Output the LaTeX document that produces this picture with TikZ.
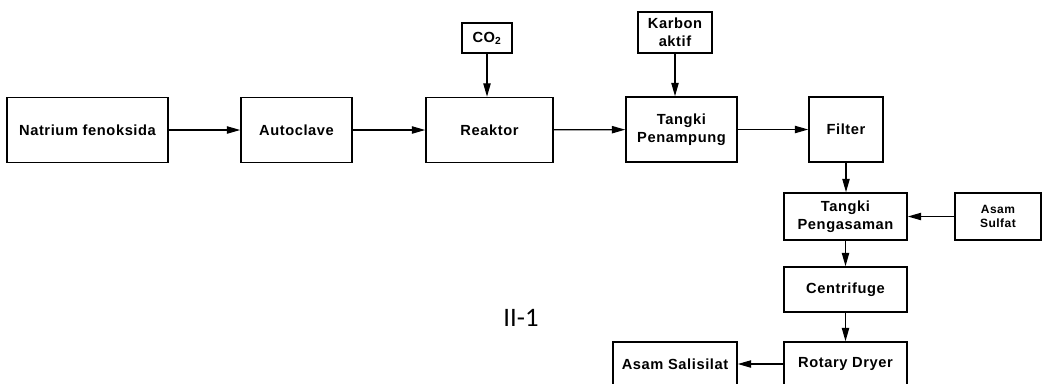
\documentclass[tikz,border=0pt]{standalone}
\usepackage{fontspec}
\setmainfont{Liberation Sans}[LetterSpace=4]
\newfontfamily\capfont{Carlito}
\usetikzlibrary{arrows.meta}

\tikzset{
  box/.style={draw, line width=1.2pt, align=center, inner sep=2pt,
    font=\bfseries\fontsize{11}{13.5}\selectfont},
  smallbox/.style={box, font=\bfseries\fontsize{9}{10.5}\selectfont},
  flow/.style={->, line width=0.9pt},
}

\begin{document}
\begin{tikzpicture}[x=0.75pt, y=-0.75pt, >={Triangle[length=10pt,width=5.5pt]}]
\useasboundingbox (0,0) rectangle (1063,383);
\clip (0,0) rectangle (1063,383);
% main line
\node[box, minimum width=120.75pt, minimum height=48.75pt] (nat) at (87.5,130) {Natrium fenoksida};
\node[box, minimum width=83.25pt, minimum height=48.75pt] (auto) at (296.5,130) {Autoclave};
\node[box, minimum width=95.25pt, minimum height=48.75pt] (reak) at (489.5,130) {Reaktor};
\node[box, minimum width=83.25pt, minimum height=48.75pt] (tpen) at (681.5,129.5) {Tangki\\Penampung};
\node[box, minimum width=55.5pt, minimum height=48.75pt] (filt) at (846,129.5) {Filter};
% feeds
\node[box, minimum width=37.5pt, minimum height=22.5pt] (co2) at (487,38) {CO\textsubscript{2}};
\node[box, minimum width=55.5pt, minimum height=30.75pt] (karb) at (675,32.5) {Karbon\\aktif};
\node[smallbox, minimum width=64.5pt, minimum height=35.25pt] (sulf) at (998,216.5) {Asam\\Sulfat};
% right column
\node[box, minimum width=92.25pt, minimum height=35.25pt] (peng) at (845.5,216.5) {Tangki\\Pengasaman};
\node[box, minimum width=92.25pt, minimum height=33.75pt] (cent) at (845.5,289.5) {Centrifuge};
\node[box, minimum width=92.25pt, minimum height=33pt] (rot) at (845.5,364) {Rotary Dryer};
\node[box, minimum width=93pt, minimum height=33pt] (sal) at (675,364) {Asam Salisilat};
\node[font=\capfont\fontsize{20}{24}\selectfont] (lbl) at (521,318) {II-1};

\draw[flow] (nat) -- (auto);
\draw[flow] (auto) -- (reak);
\draw[flow] (reak) -- (tpen);
\draw[flow] (tpen) -- (filt);
\draw[flow] (co2) -- (co2 |- reak.north);
\draw[flow] (karb) -- (karb |- tpen.north);
\draw[flow] (filt) -- (filt |- peng.north);
\draw[flow] (sulf) -- (peng);
\draw[flow] (peng) -- (cent);
\draw[flow] (cent) -- (rot);
\draw[flow] (rot) -- (sal);
\end{tikzpicture}
\end{document}
